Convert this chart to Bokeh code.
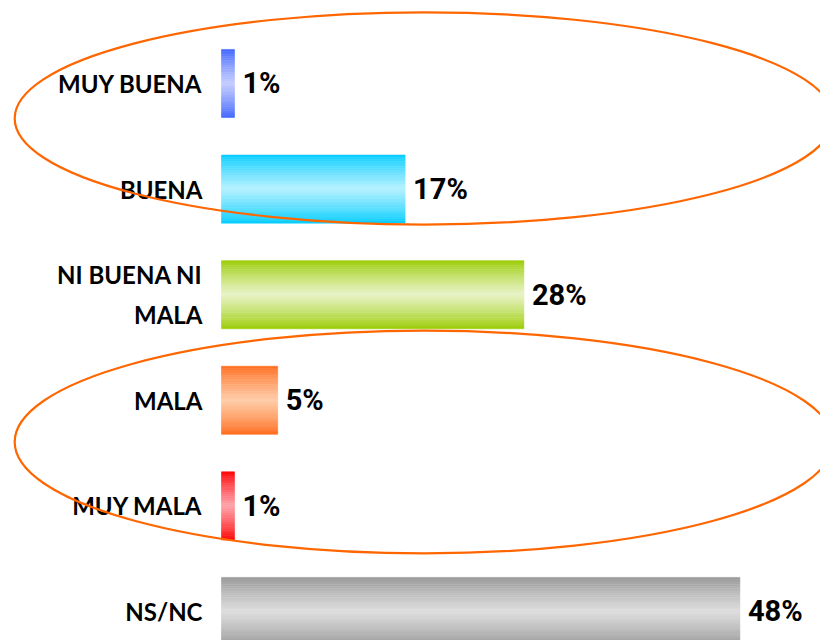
import numpy as np
from bokeh.plotting import figure
from bokeh.models import Range1d, ColumnDataSource
from bokeh.core.properties import value
from bokeh.embed import file_html
from bokeh.resources import INLINE

# ---- data -------------------------------------------------------------
categories = ["MUY BUENA", "BUENA", "NI BUENA NI\nMALA", "MALA", "MUY MALA", "NS/NC"]
values = [1.2, 17.0, 28.0, 5.2, 1.2, 48.0]
value_labels = ["1%", "17%", "28%", "5%", "1%", "48%"]

# highlight ellipses (data coords: x centre, y centre, width, height)
ell_x = [18.75, 18.75]
ell_y = [0.331, 3.395]
ell_w = [75.8, 75.8]
ell_h = [2.01, 2.11]

# ---- style ------------------------------------------------------------
edge_colors = ["#3D63FF", "#00CCFF", "#99CC00", "#FF6A1A", "#FF0000", "#969696"]
center_colors = ["#C6CEFF", "#B5F1FF", "#E8F3C6", "#FFCDAA", "#FFA3AA", "#DEDEDE"]
BAR_H = 0.645
N_STRIPS = 30


def hex2rgb(h):
    h = h.lstrip("#")
    return np.array([int(h[i:i + 2], 16) for i in (0, 2, 4)], dtype=float)


def rgb2hex(c):
    return "#%02x%02x%02x" % tuple(int(round(v)) for v in c)


ypos = list(range(len(categories)))

p = figure(width=820, height=640, output_backend="svg", toolbar_location=None,
           x_range=Range1d(-20.463, 55.463), y_range=Range1d(5.275, -0.786),
           min_border=0, outline_line_color=None)
p.axis.visible = False
p.grid.visible = False

# gradient bars built from thin strips
sx, sy, sh, sc = [], [], [], []
for i, v in enumerate(values):
    e = hex2rgb(edge_colors[i])
    c = hex2rgb(center_colors[i])
    for k in range(N_STRIPS):
        u = (k + 0.5) / N_STRIPS
        t = (1 - abs(2 * u - 1)) ** 0.8
        col = e + (c - e) * t
        sx.append(v)
        sy.append(ypos[i] - BAR_H / 2 + (k + 0.5) * BAR_H / N_STRIPS)
        sh.append(BAR_H / N_STRIPS)
        sc.append(rgb2hex(col))

strips = ColumnDataSource(dict(right=sx, y=sy, h=sh, c=sc))
p.hbar(y="y", left=0, right="right", height="h", fill_color="c", line_color="c",
       line_width=0.6, source=strips)

src = ColumnDataSource(dict(y=ypos, v=values, cat=categories, lab=value_labels))
p.text(x=0, y="y", text="cat", source=src, x_offset=-19, text_align="right",
       text_baseline="middle", text_font=value("Lato"), text_font_style="bold",
       text_font_size="24px", text_line_height=1.38, text_color="#000000")
p.text(x="v", y="y", text="lab", source=src, x_offset=8, text_align="left",
       text_baseline="middle", text_font=value("Roboto"), text_font_style="bold",
       text_font_size="29px", text_color="#000000")

p.ellipse(x=ell_x, y=ell_y, width=ell_w, height=ell_h, fill_color=None,
          line_color="#FF6600", line_width=2.2)

open("out.html", "w").write(file_html(p, INLINE))
